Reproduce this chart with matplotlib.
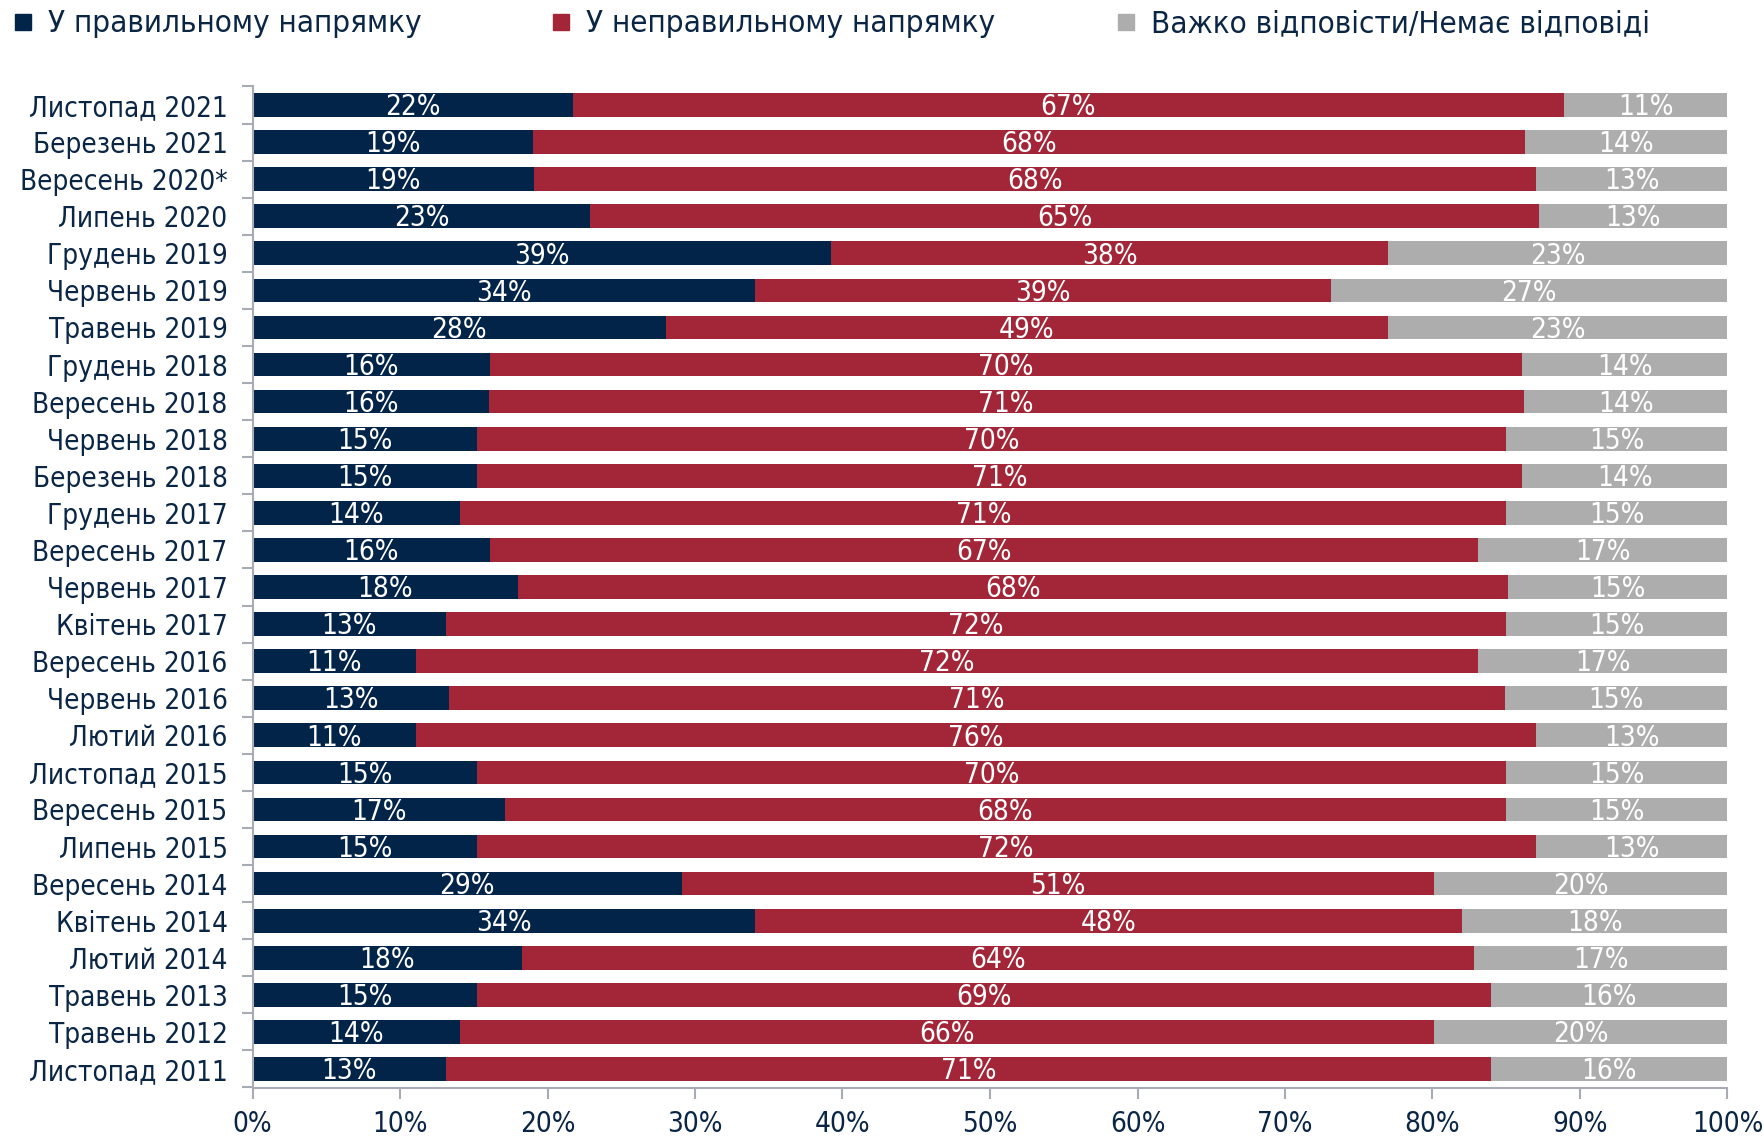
import matplotlib
matplotlib.use("Agg")
import matplotlib.pyplot as plt
from matplotlib import font_manager as fm
from matplotlib.lines import Line2D

# ---------------- data ----------------
categories = [
    "Листопад 2021", "Березень 2021", "Вересень 2020*", "Липень 2020",
    "Грудень 2019", "Червень 2019", "Травень 2019", "Грудень 2018",
    "Вересень 2018", "Червень 2018", "Березень 2018", "Грудень 2017",
    "Вересень 2017", "Червень 2017", "Квітень 2017", "Вересень 2016",
    "Червень 2016", "Лютий 2016", "Листопад 2015", "Вересень 2015",
    "Липень 2015", "Вересень 2014", "Квітень 2014", "Лютий 2014",
    "Травень 2013", "Травень 2012", "Листопад 2011",
]
series_names = ["У правильному напрямку", "У неправильному напрямку",
                "Важко відповісти/Немає відповіді"]

# bar lengths (%)
right_dir = [21.7, 19.0, 19.1, 22.9, 39.2, 34.1, 28.0, 16.1, 16.0, 15.2, 15.2, 14.1,
             16.1, 18.0, 13.1, 11.1, 13.3, 11.1, 15.2, 17.1, 15.2, 29.1, 34.1, 18.3,
             15.2, 14.1, 13.1]
wrong_dir = [67.2, 67.3, 67.9, 64.3, 37.8, 39.0, 49.0, 70.0, 70.2, 69.8, 70.9, 70.9,
             67.0, 67.1, 71.9, 72.0, 71.6, 75.9, 69.8, 67.9, 71.8, 51.0, 47.9, 64.5,
             68.8, 66.0, 70.9]
hard_say = [11.1, 13.7, 13.0, 12.8, 23.0, 26.9, 23.0, 13.9, 13.8, 15.0, 13.9, 15.0,
            16.9, 14.9, 15.0, 16.9, 15.1, 13.0, 15.0, 15.0, 13.0, 19.9, 18.0, 17.2,
            16.0, 19.9, 16.0]

# printed percentage labels
right_lbl = [22, 19, 19, 23, 39, 34, 28, 16, 16, 15, 15, 14, 16, 18, 13, 11, 13, 11,
             15, 17, 15, 29, 34, 18, 15, 14, 13]
wrong_lbl = [67, 68, 68, 65, 38, 39, 49, 70, 71, 70, 71, 71, 67, 68, 72, 72, 71, 76,
             70, 68, 72, 51, 48, 64, 69, 66, 71]
hard_lbl = [11, 14, 13, 13, 23, 27, 23, 14, 14, 15, 14, 15, 17, 15, 15, 17, 15, 13,
            15, 15, 13, 20, 18, 17, 16, 20, 16]

x_ticks = [0, 10, 20, 30, 40, 50, 60, 70, 80, 90, 100]
x_tick_labels = [f"{t}%" for t in x_ticks]

# ---------------- style ----------------
C_DARK = "#022448"
C_RED = "#a22638"
C_GRAY = "#adadad"
C_TEXT = "#0b2545"
C_AXIS = "#a8abb3"

# pick a condensed font if available
names = {f.name for f in fm.fontManager.ttflist}
fam = "DejaVu Sans"
stretch = "normal"
if "Liberation Sans Narrow" in names:
    fam = "Liberation Sans Narrow"
elif any(f.name == "DejaVu Sans" and "ondensed" in f.fname for f in fm.fontManager.ttflist):
    fam = "DejaVu Sans"
    stretch = "condensed"
plt.rcParams["font.family"] = [fam, "DejaVu Sans"]
plt.rcParams["font.stretch"] = stretch

FS = 20
FS_LEG = 22.5

W, H = 1764, 1137
fig = plt.figure(figsize=(W / 100, H / 100), dpi=100)
ax = fig.add_axes([252.5 / W, 1 - 1087.5 / H, (1727.5 - 252.5) / W, (1087.5 - 86.5) / H])

y = list(range(len(categories)))
bh = 0.64
left2 = [a for a in right_dir]
left3 = [a + b for a, b in zip(right_dir, wrong_dir)]
ax.barh(y, right_dir, height=bh, color=C_DARK, label=series_names[0])
ax.barh(y, wrong_dir, left=left2, height=bh, color=C_RED, label=series_names[1])
ax.barh(y, hard_say, left=left3, height=bh, color=C_GRAY, label=series_names[2])

dy = 0.06
for i in y:
    ax.text(right_dir[i] / 2, i + dy, f"{right_lbl[i]}%", ha="center", va="center",
            color="white", fontsize=FS)
    ax.text(left2[i] + wrong_dir[i] / 2, i + dy, f"{wrong_lbl[i]}%", ha="center",
            va="center", color="white", fontsize=FS)
    ax.text(left3[i] + hard_say[i] / 2, i + dy, f"{hard_lbl[i]}%", ha="center",
            va="center", color="white", fontsize=FS)

ax.set_xlim(0, 100)
ax.set_ylim(len(categories) - 0.5, -0.5)

ax.set_yticks(y)
ax.set_yticklabels(categories, fontsize=FS, color=C_TEXT)
ax.set_yticks([i - 0.5 for i in range(len(categories) + 1)], minor=True)
ax.tick_params(axis="y", which="major", length=0, pad=18)
ax.tick_params(axis="y", which="minor", length=8, color=C_AXIS, width=1.5)

ax.set_xticks(x_ticks)
ax.set_xticklabels(x_tick_labels, fontsize=FS, color=C_TEXT)
ax.tick_params(axis="x", which="major", length=8, color=C_AXIS, width=1.5, pad=8)

for s in ["top", "right"]:
    ax.spines[s].set_visible(False)
for s in ["left", "bottom"]:
    ax.spines[s].set_color(C_AXIS)
    ax.spines[s].set_linewidth(1.5)

# legend: three single-entry legends at fixed positions
colors = [C_DARK, C_RED, C_GRAY]
marker_x = [22.5, 561, 1126]
fs_px = FS_LEG * 100 / 72
hl = 0.5
for name, col, mx in zip(series_names, colors, marker_x):
    h = Line2D([], [], linestyle="none", marker="s", markersize=11,
               markerfacecolor=col, markeredgecolor=col)
    lx = mx - hl * fs_px / 2
    leg = fig.legend([h], [name], loc="center left",
                     bbox_to_anchor=(lx / W, 1 - 24 / H), frameon=False,
                     fontsize=FS_LEG, handlelength=hl, handletextpad=0.55,
                     borderpad=0, borderaxespad=0)
    for t in leg.get_texts():
        t.set_color(C_TEXT)

fig.savefig("out.png", dpi=100)
